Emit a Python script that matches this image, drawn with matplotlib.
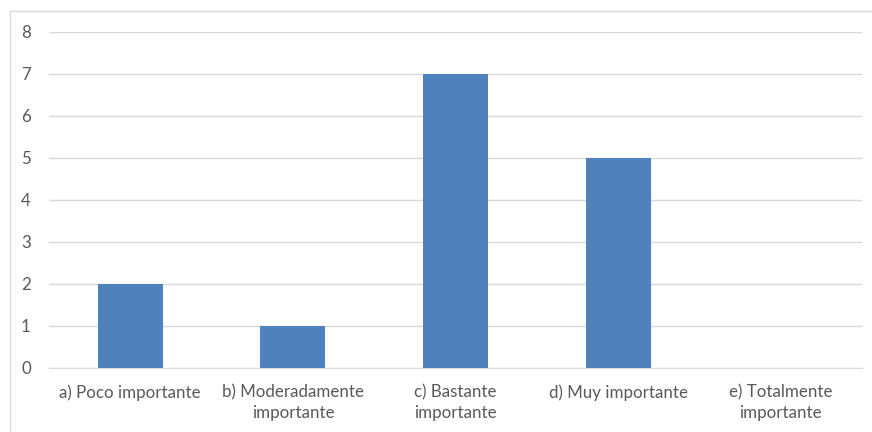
import numpy as np
import matplotlib
matplotlib.use("Agg")
import matplotlib.pyplot as plt
from matplotlib.lines import Line2D

# Categories and counts
categories = ["a) Poco importante", "b) Moderadamente\nimportante", "c) Bastante\nimportante",
              "d) Muy importante", "e) Totalmente\nimportante"]
counts = [2, 1, 7, 5, 0]
y_ticks = [0, 1, 2, 3, 4, 5, 6, 7, 8]

plt.rcParams['font.family'] = ['Lato', 'DejaVu Sans']
text_color = '#595959'
grid_color = '#d9d9d9'

fig = plt.figure(figsize=(8.72, 4.32), dpi=100)
ax = fig.add_axes([49/872, (432-368)/432, (862-49)/872, (368-32)/432])

x = np.arange(len(categories))
ax.bar(x, counts, width=0.4, color='#4f81bd', zorder=3)

ax.set_xlim(-0.5, len(categories) - 0.5)
ax.set_ylim(0, 8)
ax.set_yticks(y_ticks)
ax.set_xticks(x)
ax.set_xticklabels(categories, linespacing=1.35)
ax.grid(axis='y', color=grid_color, linewidth=1.0, zorder=0)
for side in ['top', 'right', 'left']:
    ax.spines[side].set_visible(False)
ax.spines['bottom'].set_color(grid_color)
ax.tick_params(axis='both', length=0, colors=text_color, labelsize=12.2)
ax.tick_params(axis='y', pad=13)
ax.tick_params(axis='x', pad=12)

# Outer chart border (left and top edges visible)
fig.add_artist(Line2D([10/872, 10/872], [0, 1 - 11/432], transform=fig.transFigure,
                      color=grid_color, linewidth=1.0))
fig.add_artist(Line2D([10/872, 1], [1 - 11/432, 1 - 11/432], transform=fig.transFigure,
                      color=grid_color, linewidth=1.0))

fig.savefig("out.png", dpi=100)
